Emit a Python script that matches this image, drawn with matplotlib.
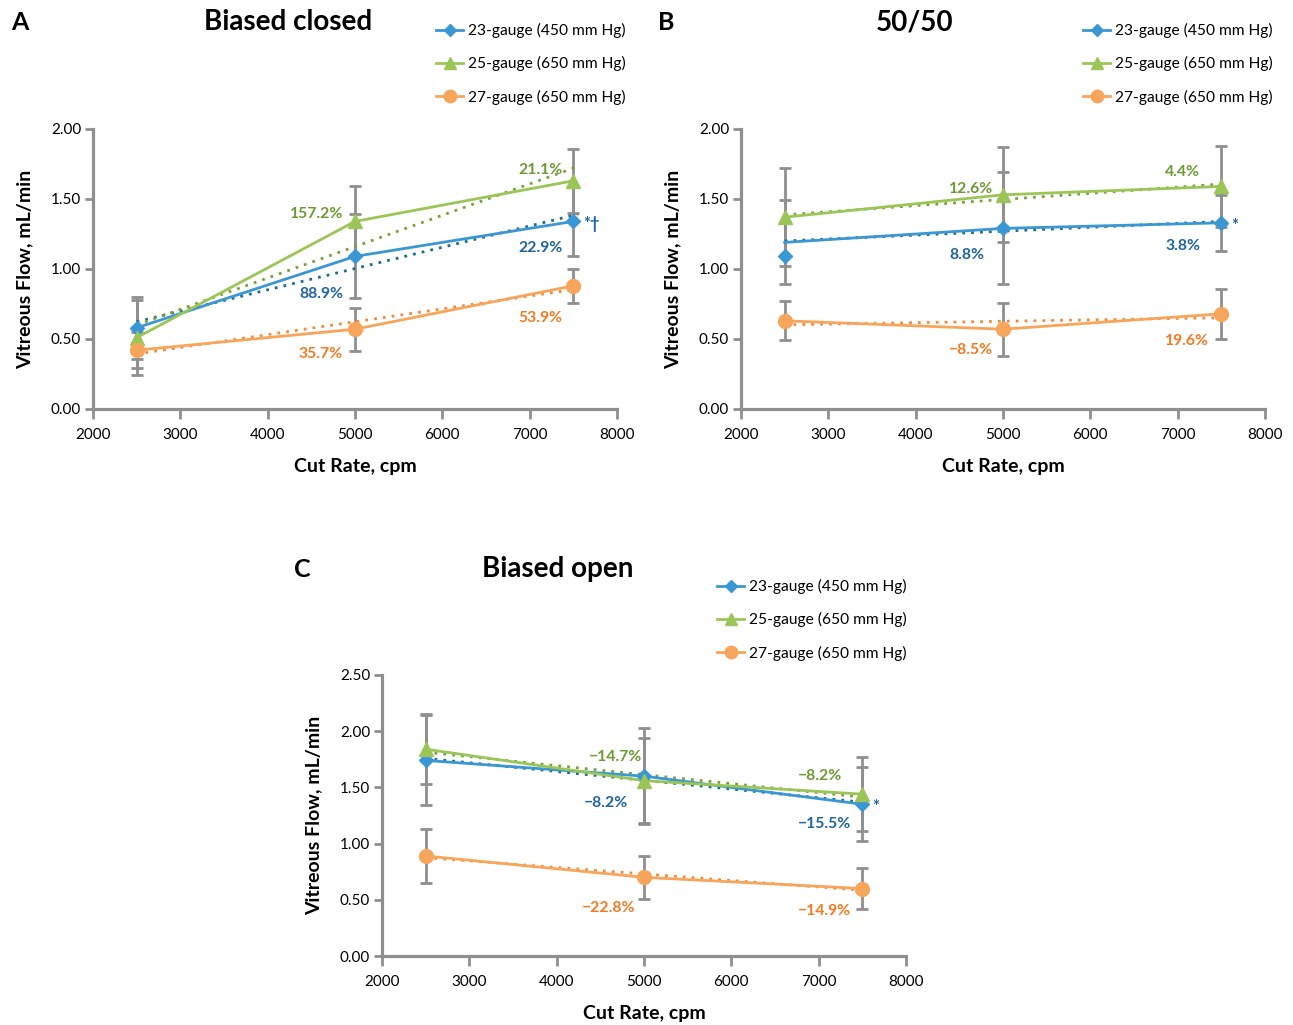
import matplotlib
matplotlib.use("Agg")
import matplotlib.pyplot as plt
import numpy as np

plt.rcParams['font.family'] = ['Lato', 'DejaVu Sans']

cut_rates = [2500, 5000, 7500]
series_names = ["23-gauge (450 mm Hg)", "25-gauge (650 mm Hg)", "27-gauge (650 mm Hg)"]

# panel A - biased closed
a_23 = [0.58, 1.09, 1.34]
a_23_err = [0.22, 0.30, 0.25]
a_25 = [0.51, 1.34, 1.63]
a_25_err = [0.27, 0.25, 0.23]
a_27 = [0.42, 0.57, 0.88]
a_27_err = [0.13, 0.155, 0.12]
a_pct = [["", "88.9%", "22.9%"], ["", "157.2%", "21.1%"], ["", "35.7%", "53.9%"]]

# panel B - 50/50
b_23 = [1.19, 1.29, 1.33]
b_23_shown = [1.09, 1.29, 1.33]   # marker at 2500 sits off the line in the original
b_23_err = [0.30, 0.40, 0.20]
b_25 = [1.37, 1.53, 1.59]
b_25_err = [0.35, 0.34, 0.29]
b_27 = [0.63, 0.57, 0.68]
b_27_err = [0.14, 0.19, 0.18]
b_pct = [["", "8.8%", "3.8%"], ["", "12.6%", "4.4%"], ["", "\u22128.5%", "19.6%"]]

# panel C - biased open
c_23 = [1.74, 1.60, 1.35]
c_23_err = [0.40, 0.43, 0.33]
c_25 = [1.84, 1.56, 1.44]
c_25_err = [0.31, 0.38, 0.33]
c_27 = [0.89, 0.70, 0.60]
c_27_err = [0.24, 0.19, 0.18]
c_pct = [["", "\u22128.2%", "\u221215.5%"], ["", "\u221214.7%", "\u22128.2%"], ["", "\u221222.8%", "\u221214.9%"]]

sig_marks = ["*\u2020", "*", "*"]

line_colors = ["#3b97d3", "#9cc557", "#f8a55c"]
text_colors = ["#1f64a0", "#6c9a35", "#f37a22"]
trend_colors = ["#1b6d8e", "#7c9f3c", "#f48a3a"]
markers = ["D", "^", "o"]
msizes = [7, 10, 10]
grey = "#8f8f8f"

# label offsets in pixels (dx to right edge, dy up) per panel/series/point
a_off = [[None, (-12, -38), (-11, -27)], [None, (-12, 7), (-11, 11)], [None, (-12, -25), (-11, -32)]]
b_off = [[None, (-19, -27), (-21, -23)], [None, (-10, 6), (-21, 14)], [None, (-10, -21), (-12, -27)]]
c_off = [[None, (-16, -27), (-11, -20)], [None, (-2, 24), (-20, 18)], [None, (-9, -31), (-11, -22)]]

W, H = 1293, 1025
fig = plt.figure(figsize=(W / 100, H / 100), dpi=100)


def px_axes(l, t, r, b):
    return fig.add_axes([l / W, 1 - b / H, (r - l) / W, (b - t) / H])


def draw_panel(ax, vals, errs, shown, pct, offs, ymax, sig):
    for i in range(3):
        y = np.array(vals[i])
        ax.errorbar(cut_rates, y, yerr=errs[i], fmt='none', ecolor=grey,
                    elinewidth=2, capsize=4.5, capthick=2, zorder=2)
        k, b0 = np.polyfit(cut_rates, y, 1)
        xt = np.array([2500, 7550])
        ax.plot(xt, k * xt + b0, linestyle=(0, (1, 2.2)), color=trend_colors[i], lw=2, zorder=3)
        ax.plot(cut_rates, y, color=line_colors[i], lw=2, zorder=4)
        ax.plot(cut_rates, shown[i], linestyle='none', marker=markers[i], ms=msizes[i],
                color=line_colors[i], mec=line_colors[i], zorder=5)
        for j in range(3):
            if pct[i][j]:
                dx, dy = offs[i][j]
                ax.annotate(pct[i][j], (cut_rates[j], y[j]), xytext=(dx * 0.72, dy * 0.72),
                            textcoords='offset points', ha='right', va='center',
                            fontsize=11.3, fontweight='bold', color=text_colors[i])
    ax.annotate(sig, (cut_rates[2], shown[0][2]), xytext=(7, -2), textcoords='offset points',
                ha='left', va='center', fontsize=12, fontweight='bold', color=text_colors[0])
    ax.set_xlim(2000, 8000)
    ax.set_ylim(0, ymax)
    ax.set_xticks(range(2000, 8001, 1000))
    ax.set_yticks(np.arange(0, ymax + 0.01, 0.5))
    ax.set_yticklabels(["%.2f" % v for v in np.arange(0, ymax + 0.01, 0.5)])
    for s in ["top", "right"]:
        ax.spines[s].set_visible(False)
    for s in ["left", "bottom"]:
        ax.spines[s].set_color(grey)
        ax.spines[s].set_linewidth(2.3)
    ax.tick_params(axis='x', direction='out', length=7.5, width=2, color=grey, labelsize=11, pad=6)
    ax.tick_params(axis='y', direction='out', length=5.5, width=2, color=grey, labelsize=11, pad=3)
    ax.set_xlabel("Cut Rate, cpm", fontsize=14, fontweight='bold', labelpad=12)
    ax.set_ylabel("Vitreous Flow, mL/min", fontsize=14, fontweight='bold', labelpad=13)


def draw_legend(ax, x, y):
    handles = []
    for i in range(3):
        h, = ax.plot([], [], color=line_colors[i], lw=2, marker=markers[i], ms=msizes[i] - 1)
        handles.append(h)
    ax.legend(handles, series_names, loc='upper left', bbox_to_anchor=(x / W, 1 - y / H),
              bbox_transform=fig.transFigure, frameon=False, fontsize=11.2, borderpad=0,
              borderaxespad=0, handlelength=1.75, handletextpad=0.3, labelspacing=1.17, numpoints=1)


axA = px_axes(93, 129, 617, 409)
draw_panel(axA, [a_23, a_25, a_27], [a_23_err, a_25_err, a_27_err],
           [a_23, a_25, a_27], a_pct, a_off, 2.0, sig_marks[0])
draw_legend(axA, 436, 23)

axB = px_axes(741, 129, 1265, 409)
draw_panel(axB, [b_23, b_25, b_27], [b_23_err, b_25_err, b_27_err],
           [b_23_shown, b_25, b_27], b_pct, b_off, 2.0, sig_marks[1])
draw_legend(axB, 1083, 23)

axC = px_axes(382, 675, 906, 956)
draw_panel(axC, [c_23, c_25, c_27], [c_23_err, c_25_err, c_27_err],
           [c_23, c_25, c_27], c_pct, c_off, 2.5, sig_marks[2])
draw_legend(axC, 717, 579)

fig.text(11 / W, 1 - 30 / H, "A", fontsize=18, fontweight='bold', va='baseline')
fig.text(288 / W, 1 - 30 / H, "Biased closed", fontsize=20, fontweight='bold', va='baseline', ha='center')
fig.text(658 / W, 1 - 30 / H, "B", fontsize=18, fontweight='bold', va='baseline')
fig.text(915 / W, 1 - 30 / H, "50/50", fontsize=20, fontweight='bold', va='baseline', ha='center')
fig.text(294 / W, 1 - 577 / H, "C", fontsize=18, fontweight='bold', va='baseline')
fig.text(558 / W, 1 - 577 / H, "Biased open", fontsize=20, fontweight='bold', va='baseline', ha='center')

fig.savefig("out.png", dpi=100)
